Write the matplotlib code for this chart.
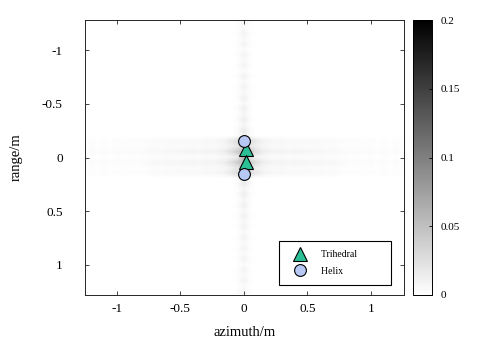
# -*- coding: utf-8 -*-

import numpy as np
import matplotlib as mpl
import matplotlib.pyplot as plt

mpl.rcParams['font.family'] = ['Liberation Serif', 'DejaVu Serif']

# target positions (m)
tri_az = [0.02, 0.02]
tri_rg = [-0.08, 0.04]
helix_az = [0.0, 0.0]
helix_rg = [-0.15, 0.15]

# faint sidelobe intensities (51 bins, -1.25 .. 1.25 m)
range_cut = [0.009, 0.004, 0.010, 0.005, 0.010, 0.004, 0.010, 0.005, 0.010, 0.004,
             0.011, 0.005, 0.011, 0.006, 0.012, 0.006, 0.013, 0.007, 0.014, 0.008,
             0.017, 0.012, 0.026, 0.040, 0.055, 0.065, 0.055, 0.040, 0.026, 0.012,
             0.017, 0.008, 0.014, 0.007, 0.013, 0.006, 0.012, 0.006, 0.011, 0.005,
             0.011, 0.004, 0.010, 0.005, 0.010, 0.004, 0.010, 0.005, 0.010, 0.004,
             0.009]
azimuth_cut = [0.002, 0.004, 0.002, 0.004, 0.002, 0.004, 0.003, 0.004, 0.003, 0.004,
               0.005, 0.007, 0.006, 0.008, 0.007, 0.008, 0.008, 0.009, 0.008, 0.010,
               0.009, 0.011, 0.015, 0.025, 0.040, 0.055, 0.040, 0.025, 0.015, 0.011,
               0.009, 0.010, 0.008, 0.009, 0.008, 0.008, 0.007, 0.008, 0.006, 0.007,
               0.005, 0.004, 0.003, 0.004, 0.003, 0.004, 0.002, 0.004, 0.002, 0.004,
               0.002]
band_weight = [0.7, 0.5, 1.0, 0.4, 1.0, 0.5, 0.7]   # rows at -0.15 .. 0.15 m

cb_ticks = [0, 0.05, 0.1, 0.15, 0.2]


def main():
    n = len(azimuth_cut)
    img = np.zeros((len(range_cut), n))
    c = n // 2
    img[:, c] = range_cut
    img[:, c - 1] = np.array(range_cut) * 0.25
    img[:, c + 1] = np.array(range_cut) * 0.25
    for k, w in enumerate(band_weight):
        r = c - 3 + k
        img[r, :] = np.maximum(img[r, :], np.array(azimuth_cut) * w)

    fig = plt.figure(figsize=(4.78, 3.47), dpi=100)
    ax = fig.add_axes([85 / 478, 52 / 347, 319 / 478, 275 / 347])
    cax = fig.add_axes([413 / 478, 52 / 347, 19 / 478, 275 / 347])

    im = ax.imshow(img, cmap='gray_r', vmin=0, vmax=0.2, aspect='auto',
                   extent=[-1.275, 1.275, 1.275, -1.275], interpolation='bilinear')

    ax.plot(tri_az, tri_rg, '^', markersize=10, color='#2bbf96',
            markeredgecolor='black', markeredgewidth=0.8, label='Trihedral', linestyle='none')
    ax.plot(helix_az, helix_rg, 'o', markersize=8.5, color='#b7c8f5',
            markeredgecolor='black', markeredgewidth=0.8, label='Helix', linestyle='none')

    ax.set_xlim(-1.25, 1.26)
    ax.set_ylim(1.28, -1.28)
    ax.set_xticks([-1, -0.5, 0, 0.5, 1])
    ax.set_xticklabels(['-1', '-0.5', '0', '0.5', '1'])
    ax.set_yticks([-1, -0.5, 0, 0.5, 1])
    ax.set_yticklabels(['-1', '-0.5', '0', '0.5', '1'])
    ax.tick_params(direction='in', top=True, right=True, labelsize=9.5,
                   length=3, width=0.6, color='#262626')
    ax.tick_params(axis='x', pad=6)
    ax.tick_params(axis='y', pad=16)
    for s in ax.spines.values():
        s.set_color('#262626')
        s.set_linewidth(0.7)

    ax.set_xlabel('azimuth/m', fontsize=10.5, labelpad=8)
    ax.set_ylabel('range/m', fontsize=10.5, labelpad=14)

    leg = ax.legend(loc='lower right', bbox_to_anchor=(0.975, 0.02), fontsize=7,
                    fancybox=False, framealpha=1, edgecolor='black',
                    borderpad=0.9, labelspacing=0.8, handletextpad=0.9,
                    handlelength=2.6)
    leg.get_frame().set_linewidth(0.8)
    for t in leg.get_texts():
        t.set_text(t.get_text() + '          ')

    cb = fig.colorbar(im, cax=cax, ticks=cb_ticks)
    cb.ax.set_yticklabels(['0', '0.05', '0.1', '0.15', '0.2'])
    cb.ax.tick_params(labelsize=8, direction='in', length=2, width=0.6, pad=6)
    cb.outline.set_linewidth(0.7)

    fig.savefig('out.png', dpi=100)


if __name__ == '__main__':
    main()
